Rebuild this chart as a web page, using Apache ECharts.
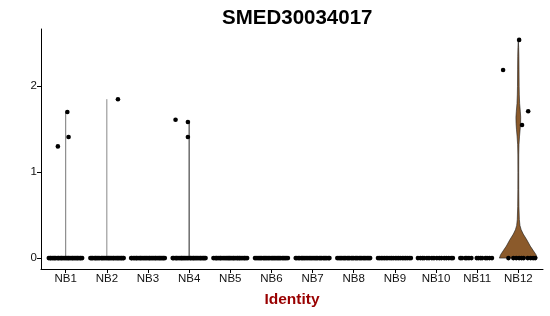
<!DOCTYPE html>
<html>
<head>
<meta charset="utf-8">
<script src="https://cdn.jsdelivr.net/npm/echarts@6/dist/echarts.min.js"></script>
<style>html,body{margin:0;padding:0;background:#fff}#c{width:550px;height:316px}</style>
</head>
<body>
<div id="c"></div>
<script>
const titleText = 'SMED30034017';
const xName = 'Identity';
const categories = ['NB1','NB2','NB3','NB4','NB5','NB6','NB7','NB8','NB9','NB10','NB11','NB12'];
const yTicks = [0, 1, 2];

// jitter offsets (category units) of the cells with value 0, one list per category
const zeroJitter = [
  [-0.41,-0.38,-0.36,-0.33,-0.3,-0.27,-0.25,-0.21,-0.18,-0.16,-0.12,-0.1,-0.07,-0.04,-0.01,0.02,0.05,0.07,0.1,0.13,0.16,0.18,0.21,0.24,0.27,0.29,0.32,0.35,0.37,0.4],
  [-0.4,-0.37,-0.35,-0.31,-0.28,-0.26,-0.23,-0.2,-0.17,-0.13,-0.11,-0.08,-0.05,-0.02,0.01,0.04,0.06,0.09,0.12,0.15,0.17,0.2,0.23,0.26,0.28,0.31,0.34,0.36,0.39,0.41],
  [-0.41,-0.39,-0.35,-0.32,-0.29,-0.27,-0.24,-0.2,-0.18,-0.15,-0.12,-0.09,-0.06,-0.03,0.0,0.03,0.05,0.08,0.11,0.14,0.17,0.19,0.22,0.25,0.28,0.3,0.33,0.36,0.38,0.41],
  [-0.4,-0.38,-0.34,-0.31,-0.29,-0.25,-0.22,-0.19,-0.17,-0.14,-0.11,-0.08,-0.05,-0.02,0.02,0.04,0.07,0.1,0.12,0.15,0.18,0.21,0.24,0.27,0.29,0.32,0.35,0.37,0.4],
  [-0.41,-0.37,-0.34,-0.32,-0.28,-0.25,-0.23,-0.2,-0.16,-0.13,-0.1,-0.07,-0.04,-0.02,0.01,0.04,0.07,0.09,0.12,0.16,0.18,0.21,0.23,0.26,0.29,0.33,0.35,0.38,0.41],
  [-0.4,-0.37,-0.33,-0.3,-0.27,-0.24,-0.2,-0.17,-0.14,-0.11,-0.08,-0.05,-0.01,0.02,0.05,0.08,0.11,0.14,0.17,0.2,0.23,0.27,0.3,0.33,0.36,0.4],
  [-0.41,-0.38,-0.34,-0.31,-0.27,-0.24,-0.21,-0.18,-0.14,-0.11,-0.07,-0.04,-0.01,0.03,0.06,0.09,0.12,0.16,0.19,0.22,0.26,0.29,0.32,0.35,0.39,0.41],
  [-0.4,-0.36,-0.33,-0.3,-0.26,-0.23,-0.2,-0.16,-0.13,-0.1,-0.06,-0.03,0.0,0.04,0.07,0.1,0.14,0.17,0.2,0.24,0.27,0.3,0.34,0.37,0.4],
  [-0.41,-0.37,-0.33,-0.29,-0.25,-0.21,-0.17,-0.12,-0.08,-0.04,0.01,0.05,0.09,0.13,0.18,0.22,0.26,0.3,0.35,0.39],
  [-0.44,-0.38,-0.33,-0.29,-0.22,-0.17,-0.1,-0.05,0.02,0.08,0.13,0.2,0.25,0.31,0.37,0.41],
  [-0.41,-0.37,-0.29,-0.25,-0.2,-0.14,-0.01,0.03,0.08,0.12,0.2,0.24,0.3,0.36],
  [-0.24,-0.12,-0.05,0.02,0.08,0.13,0.23,0.3,0.36,0.41]
];

// cells with non-zero expression
const highCat = [1, 1, 1, 2, 4, 4, 4, 12, 12, 12, 12];
const highVal = [1.30, 1.70, 1.41, 1.85, 1.61, 1.585, 1.41, 2.54, 2.19, 1.71, 1.55];
const highJitter = [-0.19, 0.04, 0.07, 0.27, -0.33, -0.03, -0.03, 0.02, -0.37, 0.24, 0.09];

// degenerate (zero-width) violins
const stemCat = [1, 2, 4];
const stemTop = [1.70, 1.85, 1.585];
const stemColor = ['#777777', '#888888', '#222222'];

// NB12 violin density profile: level -> half width (category units)
const violinCat = 12;
const violinLevels = [0, 0.04, 0.09, 0.14, 0.21, 0.28, 0.33, 0.38, 0.45, 0.6, 0.8, 1.0, 1.2, 1.32, 1.42, 1.5, 1.57, 1.64, 1.71, 1.8, 1.9, 2.0, 2.2, 2.35, 2.45, 2.54];
const violinHalf = [0.46, 0.43, 0.36, 0.29, 0.21, 0.12, 0.07, 0.04, 0.025, 0.015, 0.011, 0.01, 0.011, 0.016, 0.03, 0.045, 0.055, 0.058, 0.048, 0.032, 0.024, 0.02, 0.017, 0.014, 0.009, 0.0];
const violinFill = '#8B5A2B';

const FONT = 'Liberation Sans, Arial, Helvetica, sans-serif';

const pts = [];
zeroJitter.forEach((arr, i) => arr.forEach(j => pts.push([i + 1 + j, 0])));
highCat.forEach((c, i) => pts.push([c + highJitter[i], highVal[i]]));

const chart = echarts.init(document.getElementById('c'), null, {renderer: 'canvas'});
chart.setOption({
  animation: false,
  backgroundColor: '#fff',
  title: {
    text: titleText, left: 217, top: 3,
    textStyle: {fontFamily: FONT, fontSize: 20.5, fontWeight: 'bold', color: '#000'}
  },
  grid: {left: 41, right: 7, top: 29, bottom: 47, containLabel: false},
  xAxis: {
    type: 'value', min: 0.4, max: 12.6,
    name: xName, nameLocation: 'middle', nameGap: 23,
    nameTextStyle: {fontFamily: FONT, fontSize: 15.5, fontWeight: 'bold', color: '#990000'},
    axisLine: {show: true, onZero: false, lineStyle: {color: '#000', width: 1}},
    axisTick: {show: true, length: 4, customValues: categories.map((c, i) => i + 1), lineStyle: {color: '#000'}},
    axisLabel: {customValues: categories.map((c, i) => i + 1), margin: 4,
      formatter: v => categories[Math.round(v) - 1],
      fontFamily: FONT, fontSize: 11.5, color: '#111'},
    splitLine: {show: false}
  },
  yAxis: {
    type: 'value', min: -0.127, max: 2.667,
    axisLine: {show: true, onZero: false, lineStyle: {color: '#000', width: 1}},
    axisTick: {show: true, length: 4, customValues: yTicks, lineStyle: {color: '#000'}},
    axisLabel: {customValues: yTicks, margin: 4, fontFamily: FONT, fontSize: 11.5, color: '#111'},
    splitLine: {show: false}
  },
  series: [
    {
      type: 'custom', z: 1,
      data: [[violinCat, 0]],
      renderItem: (params, api) => {
        const c = api.value(0);
        const left = [], right = [];
        violinLevels.forEach((lv, k) => {
          left.push(api.coord([c - violinHalf[k], lv]));
          right.push(api.coord([c + violinHalf[k], lv]));
        });
        const poly = left.concat(right.reverse());
        return {type: 'polygon', shape: {points: poly},
          style: {fill: violinFill, stroke: '#1a1a1a', lineWidth: 0.6}};
      }
    },
    {
      type: 'custom', z: 1,
      data: stemCat.map((c, i) => [c, stemTop[i], i]),
      renderItem: (params, api) => {
        const p0 = api.coord([api.value(0), 0]);
        const p1 = api.coord([api.value(0), api.value(1)]);
        return {type: 'line', shape: {x1: p0[0], y1: p0[1], x2: p1[0], y2: p1[1]},
          style: {stroke: stemColor[api.value(2)], lineWidth: 1}};
      }
    },
    {
      type: 'scatter', z: 3,
      data: pts,
      symbol: 'circle', symbolSize: 4.6,
      itemStyle: {color: '#000', opacity: 1}
    }
  ]
});
</script>
</body>
</html>
